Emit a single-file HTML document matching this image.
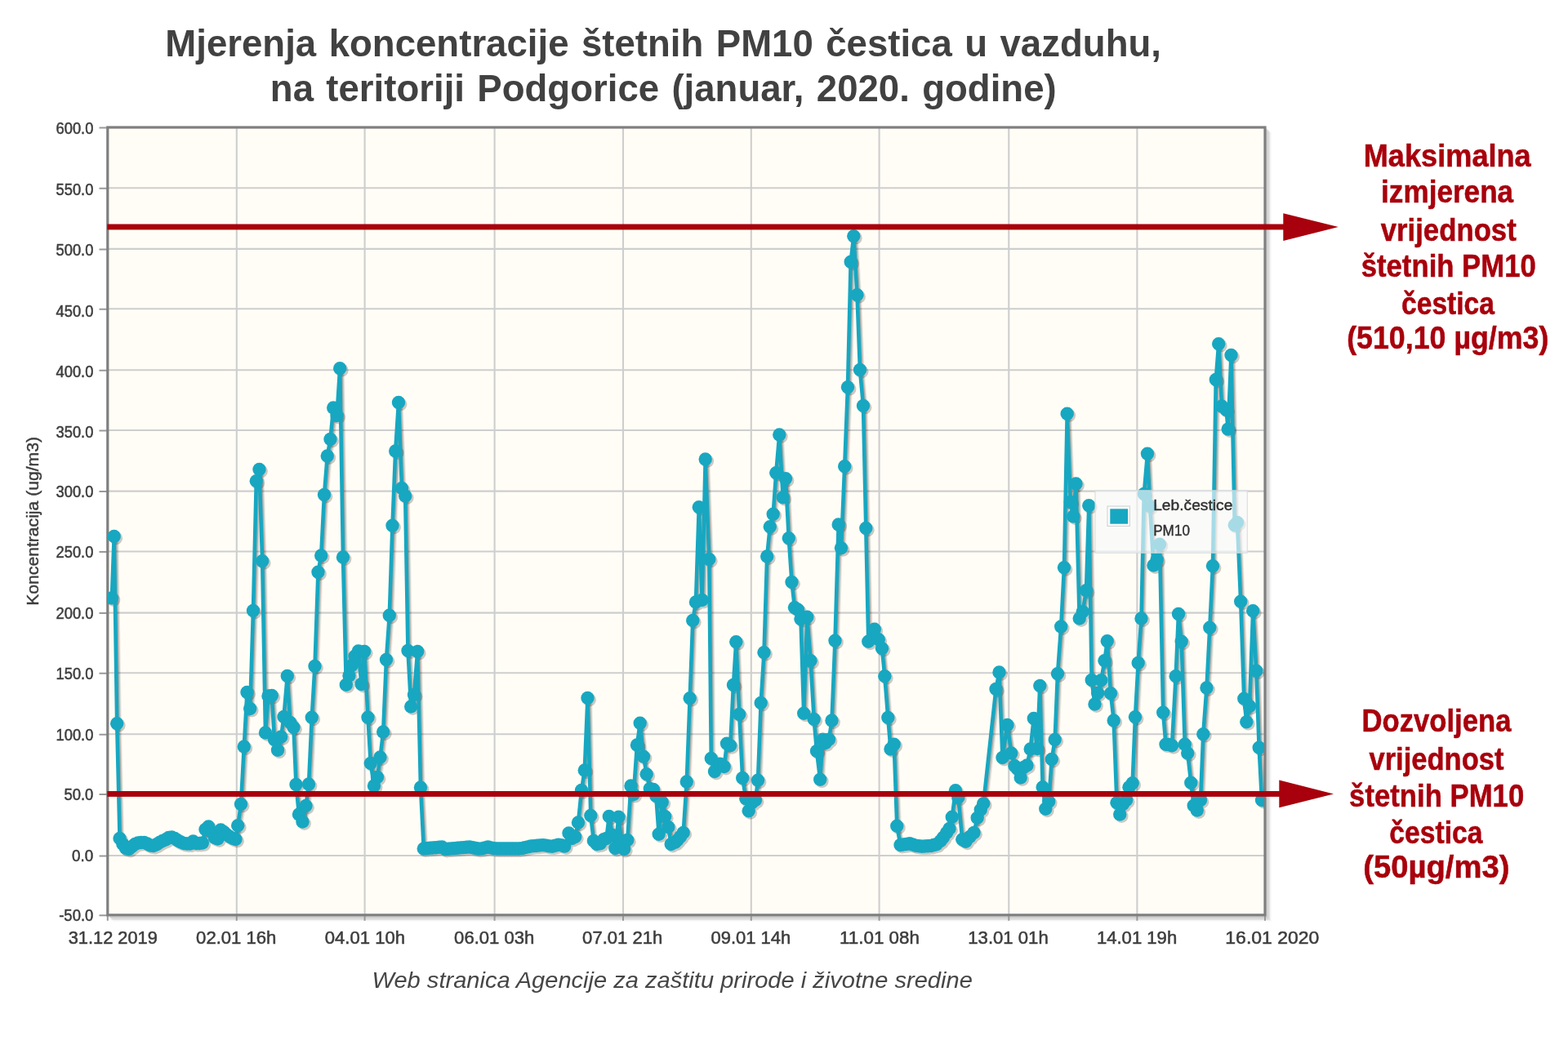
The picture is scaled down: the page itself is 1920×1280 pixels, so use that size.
<!DOCTYPE html>
<html lang="sr-Latn"><head><meta charset="utf-8">
<title>Mjerenja koncentracije štetnih PM10 čestica u vazduhu</title>
<style>
html,body{margin:0;padding:0;background:#fff;}
body{width:1920px;height:1280px;overflow:hidden;}
svg{display:block;position:absolute;left:0;top:0;}
text{font-family:"Liberation Sans",sans-serif;}
.t{font-weight:bold;font-size:46px;fill:#414141;text-anchor:middle;}
.yl{font-size:19.3px;fill:#3d3d3d;stroke:#3d3d3d;stroke-width:0.5px;text-anchor:end;}
.xl{font-size:22.6px;fill:#3d3d3d;stroke:#3d3d3d;stroke-width:0.55px;text-anchor:middle;}
.ax{font-size:20.5px;fill:#3d3d3d;stroke:#3d3d3d;stroke-width:0.45px;text-anchor:middle;}
.cap{font-style:italic;font-size:28.1px;fill:#464646;text-anchor:middle;}
.r{font-weight:bold;font-size:38px;fill:#a8000c;stroke:#a8000c;stroke-width:0.5px;text-anchor:middle;}
.lg{font-size:17.6px;fill:#303030;stroke:#303030;stroke-width:0.4px;}
</style></head><body>
<svg width="1920" height="1280" viewBox="0 0 1920 1280">
<defs>
<clipPath id="pc"><rect x="131.8" y="156.0" width="1416.2" height="964.8"/></clipPath>
</defs>
<rect width="1920" height="1280" fill="#ffffff"/>
<text class="t" transform="translate(812.15 69) scale(0.9910 1)" style="word-spacing:2.80px">Mjerenja koncentracije štetnih PM10 čestica u vazduhu,</text>
<text class="t" transform="translate(812.26 123.8) scale(0.9910 1)" style="word-spacing:2.66px">na teritoriji Podgorice (januar, 2020. godine)</text>
<path d="M1550.5 157.5 V1122.3 H133.3" fill="none" stroke="#000" stroke-opacity="0.10" stroke-width="3.2"/>
<path d="M1552.0 159.0 V1123.8 H134.8" fill="none" stroke="#000" stroke-opacity="0.09" stroke-width="3.2"/>
<path d="M1553.5 160.5 V1125.3 H136.3" fill="none" stroke="#000" stroke-opacity="0.07" stroke-width="3.2"/>
<path d="M1555.0 162.0 V1126.8 H137.8" fill="none" stroke="#000" stroke-opacity="0.04" stroke-width="3.2"/>
<rect x="131.8" y="156.0" width="1417.2" height="964.8" fill="#fffdf6"/>
<path d="M131.8 230.2H1549.0M131.8 304.9H1549.0M131.8 378.3H1549.0M131.8 453.2H1549.0M131.8 527.0H1549.0M131.8 601.6H1549.0M131.8 675.5H1549.0M131.8 750.6H1549.0M131.8 824.3H1549.0M131.8 899.3H1549.0M131.8 972.5H1549.0M131.8 1048.0H1549.0M289.8 156.0V1120.8M446.6 156.0V1120.8M605.6 156.0V1120.8M763.0 156.0V1120.8M919.8 156.0V1120.8M1076.6 156.0V1120.8M1235.3 156.0V1120.8M1392.4 156.0V1120.8" fill="none" stroke="#cecece" stroke-width="2.1"/>
<path d="M121.5 156.5H131.8M121.5 230.8H131.8M121.5 305.4H131.8M121.5 378.8H131.8M121.5 453.7H131.8M121.5 527.5H131.8M121.5 602.1H131.8M121.5 676.0H131.8M121.5 751.1H131.8M121.5 824.8H131.8M121.5 899.8H131.8M121.5 973.0H131.8M121.5 1048.5H131.8M121.5 1121.3H131.8M131.8 1120.8V1127.8M289.8 1120.8V1127.8M446.6 1120.8V1127.8M605.6 1120.8V1127.8M763.0 1120.8V1127.8M919.8 1120.8V1127.8M1076.6 1120.8V1127.8M1235.3 1120.8V1127.8M1392.4 1120.8V1127.8M1549.0 1120.8V1127.8" fill="none" stroke="#999" stroke-width="2"/>
<rect x="131.8" y="156.0" width="1417.2" height="964.8" fill="none" stroke="#7f7f7f" stroke-width="3.2"/>
<text class="yl" x="114.4" y="164.3" textLength="45.8" lengthAdjust="spacingAndGlyphs">600.0</text>
<text class="yl" x="114.4" y="238.8" textLength="45.8" lengthAdjust="spacingAndGlyphs">550.0</text>
<text class="yl" x="114.4" y="312.9" textLength="45.8" lengthAdjust="spacingAndGlyphs">500.0</text>
<text class="yl" x="114.4" y="387.7" textLength="45.8" lengthAdjust="spacingAndGlyphs">450.0</text>
<text class="yl" x="114.4" y="461.5" textLength="45.8" lengthAdjust="spacingAndGlyphs">400.0</text>
<text class="yl" x="114.4" y="536.2" textLength="45.8" lengthAdjust="spacingAndGlyphs">350.0</text>
<text class="yl" x="114.4" y="609.3" textLength="45.8" lengthAdjust="spacingAndGlyphs">300.0</text>
<text class="yl" x="114.4" y="683.0" textLength="45.8" lengthAdjust="spacingAndGlyphs">250.0</text>
<text class="yl" x="114.4" y="757.6" textLength="45.8" lengthAdjust="spacingAndGlyphs">200.0</text>
<text class="yl" x="114.4" y="832.1" textLength="45.8" lengthAdjust="spacingAndGlyphs">150.0</text>
<text class="yl" x="114.4" y="906.6" textLength="45.8" lengthAdjust="spacingAndGlyphs">100.0</text>
<text class="yl" x="114.4" y="980.0" textLength="36.0" lengthAdjust="spacingAndGlyphs">50.0</text>
<text class="yl" x="114.4" y="1054.5" textLength="26.3" lengthAdjust="spacingAndGlyphs">0.0</text>
<text class="yl" x="114.4" y="1127.8" textLength="42.2" lengthAdjust="spacingAndGlyphs">-50.0</text>
<text class="xl" x="138.30" y="1156.4" textLength="109.10" lengthAdjust="spacingAndGlyphs">31.12 2019</text>
<text class="xl" x="289.25" y="1156.4" textLength="98.31" lengthAdjust="spacingAndGlyphs">02.01 16h</text>
<text class="xl" x="446.85" y="1156.4" textLength="98.29" lengthAdjust="spacingAndGlyphs">04.01 10h</text>
<text class="xl" x="605.25" y="1156.4" textLength="98.29" lengthAdjust="spacingAndGlyphs">06.01 03h</text>
<text class="xl" x="762.25" y="1156.4" textLength="98.28" lengthAdjust="spacingAndGlyphs">07.01 21h</text>
<text class="xl" x="919.35" y="1156.4" textLength="97.73" lengthAdjust="spacingAndGlyphs">09.01 14h</text>
<text class="xl" x="1077.00" y="1156.4" textLength="97.81" lengthAdjust="spacingAndGlyphs">11.01 08h</text>
<text class="xl" x="1234.50" y="1156.4" textLength="98.37" lengthAdjust="spacingAndGlyphs">13.01 01h</text>
<text class="xl" x="1392.05" y="1156.4" textLength="98.28" lengthAdjust="spacingAndGlyphs">14.01 19h</text>
<text class="xl" x="1557.80" y="1156.4" textLength="114.90" lengthAdjust="spacingAndGlyphs">16.01 2020</text>
<text class="ax" transform="translate(46.8 638.4) rotate(-90)" textLength="206.7" lengthAdjust="spacingAndGlyphs">Koncentracija (ug/m3)</text>
<g clip-path="url(#pc)">
<g transform="translate(1.3 1.3)" opacity="0.16">
<polyline points="136.9,732.5 139.7,657.0 143.2,886.2 146.6,1027.0 150.4,1034.0 154.0,1039.0 157.8,1040.0 161.5,1037.0 165.3,1034.0 169.0,1032.5 172.8,1032.0 176.5,1032.0 180.3,1033.5 184.0,1035.5 187.8,1036.0 191.5,1034.5 195.3,1032.0 199.0,1030.0 202.8,1028.5 206.5,1026.0 210.3,1025.5 214.0,1027.0 217.8,1029.5 221.5,1031.5 225.3,1033.0 229.0,1033.5 232.8,1033.5 236.5,1030.5 240.3,1033.0 244.0,1033.0 247.8,1032.5 251.5,1016.0 255.3,1012.5 259.0,1019.0 262.8,1026.0 266.5,1027.5 270.3,1016.5 274.0,1019.0 277.8,1022.5 281.5,1025.0 285.3,1027.0 288.5,1028.0 291.2,1011.2 295.0,985.0 298.8,914.5 302.5,848.0 306.2,868.0 310.0,748.0 313.8,589.2 317.5,575.0 321.2,687.3 325.0,897.5 328.5,852.5 332.8,852.0 336.0,906.0 340.0,918.8 344.2,902.5 347.5,878.0 351.8,828.0 355.3,885.0 359.5,891.0 362.5,961.0 366.0,997.5 370.5,1006.5 374.5,987.0 378.0,960.5 381.8,878.8 385.5,816.0 389.5,700.8 393.2,680.5 397.0,606.0 400.8,558.5 404.5,538.0 408.2,499.5 412.5,509.0 416.2,451.2 420.0,682.5 423.8,838.8 427.5,827.5 430.8,815.0 434.5,803.8 438.8,797.5 442.5,838.0 446.2,798.0 450.5,878.8 453.8,935.0 458.0,962.5 462.0,952.0 465.5,927.5 469.2,896.5 473.0,808.0 476.8,753.8 480.5,643.8 484.2,552.5 488.0,493.0 492.0,598.0 496.2,607.5 499.5,797.0 503.2,865.5 507.0,851.0 511.2,798.0 515.0,964.5 518.8,1039.5 522.5,1039.2 526.2,1038.8 530.0,1038.5 533.8,1038.2 537.5,1037.8 541.2,1037.5 545.0,1040.0 548.8,1039.7 552.5,1039.4 556.2,1039.1 560.0,1038.8 563.8,1038.4 567.5,1038.1 571.2,1037.8 575.0,1037.5 578.8,1038.2 582.5,1039.0 586.2,1039.8 590.0,1039.4 593.8,1038.4 597.5,1037.5 601.2,1038.4 605.0,1039.3 608.8,1039.5 612.5,1039.5 616.2,1039.5 620.0,1039.5 623.8,1039.5 627.5,1039.5 631.2,1039.5 635.0,1039.5 638.8,1039.1 642.5,1038.2 646.2,1037.4 650.0,1036.5 653.8,1036.1 657.5,1035.8 661.2,1035.4 665.0,1035.1 668.8,1035.6 672.5,1036.4 676.2,1036.7 680.0,1035.8 683.8,1034.8 687.5,1035.3 691.2,1036.6 696.5,1020.5 700.3,1027.0 704.2,1025.0 708.0,1007.5 712.0,968.0 715.8,943.5 719.5,855.0 723.3,999.0 726.9,1030.0 730.8,1034.0 735.0,1033.3 739.2,1028.3 742.5,1027.0 745.8,1000.0 750.0,1023.0 753.3,1039.0 757.5,1000.8 761.0,1030.0 764.2,1040.0 768.3,1029.0 772.5,962.5 775.8,973.0 780.0,912.5 783.7,885.8 788.0,926.7 791.7,948.3 795.8,966.0 800.0,967.0 803.3,975.0 806.7,1021.7 810.8,982.5 814.2,1000.0 818.3,1013.0 821.7,1034.0 826.7,1031.7 829.5,1029.0 833.0,1025.0 836.7,1020.0 840.8,957.5 844.7,855.2 848.3,760.0 852.0,737.5 855.8,621.3 859.7,735.0 863.7,562.5 868.3,685.0 870.8,929.0 875.0,945.0 878.5,938.0 881.7,935.8 886.7,939.0 890.0,910.8 894.2,913.3 898.0,839.0 901.3,786.2 905.2,875.0 909.2,953.0 913.3,978.3 916.7,993.3 920.8,983.3 925.0,980.0 928.0,955.8 931.7,861.0 935.5,799.2 939.2,681.5 942.8,645.3 946.7,629.7 950.3,579.2 954.3,532.5 958.7,609.2 962.0,586.3 965.8,659.2 969.5,713.0 973.0,744.2 977.0,746.7 980.5,758.3 984.2,873.8 988.3,755.8 992.5,809.2 996.7,881.0 1000.0,920.0 1004.2,954.7 1007.5,905.8 1010.8,910.0 1015.0,905.8 1018.5,882.5 1022.5,784.7 1026.7,642.5 1030.0,671.3 1034.2,571.3 1038.0,474.2 1041.7,320.8 1045.3,289.2 1049.5,361.3 1053.0,453.0 1057.0,497.0 1060.3,647.0 1063.3,785.8 1070.8,770.8 1075.8,783.3 1080.0,794.2 1083.3,828.3 1087.3,879.0 1090.5,917.5 1094.7,911.7 1098.3,1011.7 1102.5,1035.0 1106.2,1034.5 1110.0,1034.0 1113.8,1033.3 1117.5,1034.5 1121.2,1035.8 1125.0,1036.3 1128.8,1036.7 1132.5,1036.5 1136.2,1036.3 1140.0,1036.0 1143.5,1035.0 1146.7,1034.2 1151.7,1030.0 1155.0,1025.8 1159.2,1020.0 1162.5,1015.0 1165.8,1000.8 1170.0,968.3 1173.3,976.7 1178.3,1028.3 1182.5,1030.8 1187.5,1025.0 1192.5,1020.0 1196.7,1001.7 1200.8,991.7 1204.2,984.2 1219.5,844.0 1223.5,823.5 1227.5,928.0 1233.5,888.0 1238.3,922.5 1242.5,938.3 1246.0,942.0 1249.7,952.5 1253.5,940.0 1257.5,937.5 1261.7,917.5 1265.8,880.0 1270.0,917.0 1273.3,840.0 1276.7,964.2 1280.3,990.8 1284.2,981.7 1287.8,930.0 1291.7,906.0 1295.0,825.3 1299.2,767.5 1303.0,695.3 1306.7,506.7 1310.8,615.0 1314.2,632.5 1317.5,592.5 1321.7,757.5 1325.8,749.2 1330.0,723.3 1333.3,619.2 1336.7,833.0 1340.5,862.5 1344.2,849.0 1348.3,833.3 1352.5,809.2 1355.8,785.3 1360.0,849.2 1363.7,882.5 1367.5,983.3 1371.2,997.5 1375.0,985.0 1379.2,980.0 1382.5,964.2 1386.7,959.2 1390.0,878.3 1393.7,812.0 1397.5,757.5 1400.8,605.0 1405.0,555.8 1408.0,620.0 1412.5,692.5 1416.7,685.8 1420.0,666.7 1424.2,872.8 1427.5,911.7 1431.3,912.0 1435.0,913.3 1439.7,828.3 1443.0,752.0 1446.7,785.8 1450.8,911.7 1454.2,922.5 1458.3,958.7 1461.7,986.7 1465.8,992.5 1470.0,980.0 1473.3,899.2 1477.5,842.5 1481.3,768.7 1485.0,693.3 1488.8,465.0 1492.2,421.2 1496.0,497.5 1501.5,502.0 1503.7,525.6 1507.5,435.0 1511.8,643.3 1515.0,640.0 1519.2,736.7 1523.3,855.8 1526.3,884.2 1530.0,865.0 1534.2,748.3 1538.3,821.7 1541.7,915.8 1545.0,980.0" fill="none" stroke="#000" stroke-width="4.6" stroke-linejoin="round" stroke-linecap="round"/>
</g>
<g transform="translate(2.4 2.4)" opacity="0.12">
<polyline points="136.9,732.5 139.7,657.0 143.2,886.2 146.6,1027.0 150.4,1034.0 154.0,1039.0 157.8,1040.0 161.5,1037.0 165.3,1034.0 169.0,1032.5 172.8,1032.0 176.5,1032.0 180.3,1033.5 184.0,1035.5 187.8,1036.0 191.5,1034.5 195.3,1032.0 199.0,1030.0 202.8,1028.5 206.5,1026.0 210.3,1025.5 214.0,1027.0 217.8,1029.5 221.5,1031.5 225.3,1033.0 229.0,1033.5 232.8,1033.5 236.5,1030.5 240.3,1033.0 244.0,1033.0 247.8,1032.5 251.5,1016.0 255.3,1012.5 259.0,1019.0 262.8,1026.0 266.5,1027.5 270.3,1016.5 274.0,1019.0 277.8,1022.5 281.5,1025.0 285.3,1027.0 288.5,1028.0 291.2,1011.2 295.0,985.0 298.8,914.5 302.5,848.0 306.2,868.0 310.0,748.0 313.8,589.2 317.5,575.0 321.2,687.3 325.0,897.5 328.5,852.5 332.8,852.0 336.0,906.0 340.0,918.8 344.2,902.5 347.5,878.0 351.8,828.0 355.3,885.0 359.5,891.0 362.5,961.0 366.0,997.5 370.5,1006.5 374.5,987.0 378.0,960.5 381.8,878.8 385.5,816.0 389.5,700.8 393.2,680.5 397.0,606.0 400.8,558.5 404.5,538.0 408.2,499.5 412.5,509.0 416.2,451.2 420.0,682.5 423.8,838.8 427.5,827.5 430.8,815.0 434.5,803.8 438.8,797.5 442.5,838.0 446.2,798.0 450.5,878.8 453.8,935.0 458.0,962.5 462.0,952.0 465.5,927.5 469.2,896.5 473.0,808.0 476.8,753.8 480.5,643.8 484.2,552.5 488.0,493.0 492.0,598.0 496.2,607.5 499.5,797.0 503.2,865.5 507.0,851.0 511.2,798.0 515.0,964.5 518.8,1039.5 522.5,1039.2 526.2,1038.8 530.0,1038.5 533.8,1038.2 537.5,1037.8 541.2,1037.5 545.0,1040.0 548.8,1039.7 552.5,1039.4 556.2,1039.1 560.0,1038.8 563.8,1038.4 567.5,1038.1 571.2,1037.8 575.0,1037.5 578.8,1038.2 582.5,1039.0 586.2,1039.8 590.0,1039.4 593.8,1038.4 597.5,1037.5 601.2,1038.4 605.0,1039.3 608.8,1039.5 612.5,1039.5 616.2,1039.5 620.0,1039.5 623.8,1039.5 627.5,1039.5 631.2,1039.5 635.0,1039.5 638.8,1039.1 642.5,1038.2 646.2,1037.4 650.0,1036.5 653.8,1036.1 657.5,1035.8 661.2,1035.4 665.0,1035.1 668.8,1035.6 672.5,1036.4 676.2,1036.7 680.0,1035.8 683.8,1034.8 687.5,1035.3 691.2,1036.6 696.5,1020.5 700.3,1027.0 704.2,1025.0 708.0,1007.5 712.0,968.0 715.8,943.5 719.5,855.0 723.3,999.0 726.9,1030.0 730.8,1034.0 735.0,1033.3 739.2,1028.3 742.5,1027.0 745.8,1000.0 750.0,1023.0 753.3,1039.0 757.5,1000.8 761.0,1030.0 764.2,1040.0 768.3,1029.0 772.5,962.5 775.8,973.0 780.0,912.5 783.7,885.8 788.0,926.7 791.7,948.3 795.8,966.0 800.0,967.0 803.3,975.0 806.7,1021.7 810.8,982.5 814.2,1000.0 818.3,1013.0 821.7,1034.0 826.7,1031.7 829.5,1029.0 833.0,1025.0 836.7,1020.0 840.8,957.5 844.7,855.2 848.3,760.0 852.0,737.5 855.8,621.3 859.7,735.0 863.7,562.5 868.3,685.0 870.8,929.0 875.0,945.0 878.5,938.0 881.7,935.8 886.7,939.0 890.0,910.8 894.2,913.3 898.0,839.0 901.3,786.2 905.2,875.0 909.2,953.0 913.3,978.3 916.7,993.3 920.8,983.3 925.0,980.0 928.0,955.8 931.7,861.0 935.5,799.2 939.2,681.5 942.8,645.3 946.7,629.7 950.3,579.2 954.3,532.5 958.7,609.2 962.0,586.3 965.8,659.2 969.5,713.0 973.0,744.2 977.0,746.7 980.5,758.3 984.2,873.8 988.3,755.8 992.5,809.2 996.7,881.0 1000.0,920.0 1004.2,954.7 1007.5,905.8 1010.8,910.0 1015.0,905.8 1018.5,882.5 1022.5,784.7 1026.7,642.5 1030.0,671.3 1034.2,571.3 1038.0,474.2 1041.7,320.8 1045.3,289.2 1049.5,361.3 1053.0,453.0 1057.0,497.0 1060.3,647.0 1063.3,785.8 1070.8,770.8 1075.8,783.3 1080.0,794.2 1083.3,828.3 1087.3,879.0 1090.5,917.5 1094.7,911.7 1098.3,1011.7 1102.5,1035.0 1106.2,1034.5 1110.0,1034.0 1113.8,1033.3 1117.5,1034.5 1121.2,1035.8 1125.0,1036.3 1128.8,1036.7 1132.5,1036.5 1136.2,1036.3 1140.0,1036.0 1143.5,1035.0 1146.7,1034.2 1151.7,1030.0 1155.0,1025.8 1159.2,1020.0 1162.5,1015.0 1165.8,1000.8 1170.0,968.3 1173.3,976.7 1178.3,1028.3 1182.5,1030.8 1187.5,1025.0 1192.5,1020.0 1196.7,1001.7 1200.8,991.7 1204.2,984.2 1219.5,844.0 1223.5,823.5 1227.5,928.0 1233.5,888.0 1238.3,922.5 1242.5,938.3 1246.0,942.0 1249.7,952.5 1253.5,940.0 1257.5,937.5 1261.7,917.5 1265.8,880.0 1270.0,917.0 1273.3,840.0 1276.7,964.2 1280.3,990.8 1284.2,981.7 1287.8,930.0 1291.7,906.0 1295.0,825.3 1299.2,767.5 1303.0,695.3 1306.7,506.7 1310.8,615.0 1314.2,632.5 1317.5,592.5 1321.7,757.5 1325.8,749.2 1330.0,723.3 1333.3,619.2 1336.7,833.0 1340.5,862.5 1344.2,849.0 1348.3,833.3 1352.5,809.2 1355.8,785.3 1360.0,849.2 1363.7,882.5 1367.5,983.3 1371.2,997.5 1375.0,985.0 1379.2,980.0 1382.5,964.2 1386.7,959.2 1390.0,878.3 1393.7,812.0 1397.5,757.5 1400.8,605.0 1405.0,555.8 1408.0,620.0 1412.5,692.5 1416.7,685.8 1420.0,666.7 1424.2,872.8 1427.5,911.7 1431.3,912.0 1435.0,913.3 1439.7,828.3 1443.0,752.0 1446.7,785.8 1450.8,911.7 1454.2,922.5 1458.3,958.7 1461.7,986.7 1465.8,992.5 1470.0,980.0 1473.3,899.2 1477.5,842.5 1481.3,768.7 1485.0,693.3 1488.8,465.0 1492.2,421.2 1496.0,497.5 1501.5,502.0 1503.7,525.6 1507.5,435.0 1511.8,643.3 1515.0,640.0 1519.2,736.7 1523.3,855.8 1526.3,884.2 1530.0,865.0 1534.2,748.3 1538.3,821.7 1541.7,915.8 1545.0,980.0" fill="none" stroke="#000" stroke-width="4.6" stroke-linejoin="round" stroke-linecap="round"/>
</g>
<g transform="translate(3.5 3.5)" opacity="0.08">
<polyline points="136.9,732.5 139.7,657.0 143.2,886.2 146.6,1027.0 150.4,1034.0 154.0,1039.0 157.8,1040.0 161.5,1037.0 165.3,1034.0 169.0,1032.5 172.8,1032.0 176.5,1032.0 180.3,1033.5 184.0,1035.5 187.8,1036.0 191.5,1034.5 195.3,1032.0 199.0,1030.0 202.8,1028.5 206.5,1026.0 210.3,1025.5 214.0,1027.0 217.8,1029.5 221.5,1031.5 225.3,1033.0 229.0,1033.5 232.8,1033.5 236.5,1030.5 240.3,1033.0 244.0,1033.0 247.8,1032.5 251.5,1016.0 255.3,1012.5 259.0,1019.0 262.8,1026.0 266.5,1027.5 270.3,1016.5 274.0,1019.0 277.8,1022.5 281.5,1025.0 285.3,1027.0 288.5,1028.0 291.2,1011.2 295.0,985.0 298.8,914.5 302.5,848.0 306.2,868.0 310.0,748.0 313.8,589.2 317.5,575.0 321.2,687.3 325.0,897.5 328.5,852.5 332.8,852.0 336.0,906.0 340.0,918.8 344.2,902.5 347.5,878.0 351.8,828.0 355.3,885.0 359.5,891.0 362.5,961.0 366.0,997.5 370.5,1006.5 374.5,987.0 378.0,960.5 381.8,878.8 385.5,816.0 389.5,700.8 393.2,680.5 397.0,606.0 400.8,558.5 404.5,538.0 408.2,499.5 412.5,509.0 416.2,451.2 420.0,682.5 423.8,838.8 427.5,827.5 430.8,815.0 434.5,803.8 438.8,797.5 442.5,838.0 446.2,798.0 450.5,878.8 453.8,935.0 458.0,962.5 462.0,952.0 465.5,927.5 469.2,896.5 473.0,808.0 476.8,753.8 480.5,643.8 484.2,552.5 488.0,493.0 492.0,598.0 496.2,607.5 499.5,797.0 503.2,865.5 507.0,851.0 511.2,798.0 515.0,964.5 518.8,1039.5 522.5,1039.2 526.2,1038.8 530.0,1038.5 533.8,1038.2 537.5,1037.8 541.2,1037.5 545.0,1040.0 548.8,1039.7 552.5,1039.4 556.2,1039.1 560.0,1038.8 563.8,1038.4 567.5,1038.1 571.2,1037.8 575.0,1037.5 578.8,1038.2 582.5,1039.0 586.2,1039.8 590.0,1039.4 593.8,1038.4 597.5,1037.5 601.2,1038.4 605.0,1039.3 608.8,1039.5 612.5,1039.5 616.2,1039.5 620.0,1039.5 623.8,1039.5 627.5,1039.5 631.2,1039.5 635.0,1039.5 638.8,1039.1 642.5,1038.2 646.2,1037.4 650.0,1036.5 653.8,1036.1 657.5,1035.8 661.2,1035.4 665.0,1035.1 668.8,1035.6 672.5,1036.4 676.2,1036.7 680.0,1035.8 683.8,1034.8 687.5,1035.3 691.2,1036.6 696.5,1020.5 700.3,1027.0 704.2,1025.0 708.0,1007.5 712.0,968.0 715.8,943.5 719.5,855.0 723.3,999.0 726.9,1030.0 730.8,1034.0 735.0,1033.3 739.2,1028.3 742.5,1027.0 745.8,1000.0 750.0,1023.0 753.3,1039.0 757.5,1000.8 761.0,1030.0 764.2,1040.0 768.3,1029.0 772.5,962.5 775.8,973.0 780.0,912.5 783.7,885.8 788.0,926.7 791.7,948.3 795.8,966.0 800.0,967.0 803.3,975.0 806.7,1021.7 810.8,982.5 814.2,1000.0 818.3,1013.0 821.7,1034.0 826.7,1031.7 829.5,1029.0 833.0,1025.0 836.7,1020.0 840.8,957.5 844.7,855.2 848.3,760.0 852.0,737.5 855.8,621.3 859.7,735.0 863.7,562.5 868.3,685.0 870.8,929.0 875.0,945.0 878.5,938.0 881.7,935.8 886.7,939.0 890.0,910.8 894.2,913.3 898.0,839.0 901.3,786.2 905.2,875.0 909.2,953.0 913.3,978.3 916.7,993.3 920.8,983.3 925.0,980.0 928.0,955.8 931.7,861.0 935.5,799.2 939.2,681.5 942.8,645.3 946.7,629.7 950.3,579.2 954.3,532.5 958.7,609.2 962.0,586.3 965.8,659.2 969.5,713.0 973.0,744.2 977.0,746.7 980.5,758.3 984.2,873.8 988.3,755.8 992.5,809.2 996.7,881.0 1000.0,920.0 1004.2,954.7 1007.5,905.8 1010.8,910.0 1015.0,905.8 1018.5,882.5 1022.5,784.7 1026.7,642.5 1030.0,671.3 1034.2,571.3 1038.0,474.2 1041.7,320.8 1045.3,289.2 1049.5,361.3 1053.0,453.0 1057.0,497.0 1060.3,647.0 1063.3,785.8 1070.8,770.8 1075.8,783.3 1080.0,794.2 1083.3,828.3 1087.3,879.0 1090.5,917.5 1094.7,911.7 1098.3,1011.7 1102.5,1035.0 1106.2,1034.5 1110.0,1034.0 1113.8,1033.3 1117.5,1034.5 1121.2,1035.8 1125.0,1036.3 1128.8,1036.7 1132.5,1036.5 1136.2,1036.3 1140.0,1036.0 1143.5,1035.0 1146.7,1034.2 1151.7,1030.0 1155.0,1025.8 1159.2,1020.0 1162.5,1015.0 1165.8,1000.8 1170.0,968.3 1173.3,976.7 1178.3,1028.3 1182.5,1030.8 1187.5,1025.0 1192.5,1020.0 1196.7,1001.7 1200.8,991.7 1204.2,984.2 1219.5,844.0 1223.5,823.5 1227.5,928.0 1233.5,888.0 1238.3,922.5 1242.5,938.3 1246.0,942.0 1249.7,952.5 1253.5,940.0 1257.5,937.5 1261.7,917.5 1265.8,880.0 1270.0,917.0 1273.3,840.0 1276.7,964.2 1280.3,990.8 1284.2,981.7 1287.8,930.0 1291.7,906.0 1295.0,825.3 1299.2,767.5 1303.0,695.3 1306.7,506.7 1310.8,615.0 1314.2,632.5 1317.5,592.5 1321.7,757.5 1325.8,749.2 1330.0,723.3 1333.3,619.2 1336.7,833.0 1340.5,862.5 1344.2,849.0 1348.3,833.3 1352.5,809.2 1355.8,785.3 1360.0,849.2 1363.7,882.5 1367.5,983.3 1371.2,997.5 1375.0,985.0 1379.2,980.0 1382.5,964.2 1386.7,959.2 1390.0,878.3 1393.7,812.0 1397.5,757.5 1400.8,605.0 1405.0,555.8 1408.0,620.0 1412.5,692.5 1416.7,685.8 1420.0,666.7 1424.2,872.8 1427.5,911.7 1431.3,912.0 1435.0,913.3 1439.7,828.3 1443.0,752.0 1446.7,785.8 1450.8,911.7 1454.2,922.5 1458.3,958.7 1461.7,986.7 1465.8,992.5 1470.0,980.0 1473.3,899.2 1477.5,842.5 1481.3,768.7 1485.0,693.3 1488.8,465.0 1492.2,421.2 1496.0,497.5 1501.5,502.0 1503.7,525.6 1507.5,435.0 1511.8,643.3 1515.0,640.0 1519.2,736.7 1523.3,855.8 1526.3,884.2 1530.0,865.0 1534.2,748.3 1538.3,821.7 1541.7,915.8 1545.0,980.0" fill="none" stroke="#000" stroke-width="4.6" stroke-linejoin="round" stroke-linecap="round"/>
</g>
<g fill="#000" opacity="0.2" transform="translate(2.2 2.2)">
<circle cx="136.9" cy="732.5" r="8.2"/><circle cx="139.7" cy="657.0" r="8.2"/><circle cx="143.2" cy="886.2" r="8.2"/><circle cx="146.6" cy="1027.0" r="8.2"/><circle cx="150.4" cy="1034.0" r="8.2"/><circle cx="154.0" cy="1039.0" r="8.2"/><circle cx="157.8" cy="1040.0" r="8.2"/><circle cx="161.5" cy="1037.0" r="8.2"/><circle cx="165.3" cy="1034.0" r="8.2"/><circle cx="169.0" cy="1032.5" r="8.2"/><circle cx="172.8" cy="1032.0" r="8.2"/><circle cx="176.5" cy="1032.0" r="8.2"/><circle cx="180.3" cy="1033.5" r="8.2"/><circle cx="184.0" cy="1035.5" r="8.2"/><circle cx="187.8" cy="1036.0" r="8.2"/><circle cx="191.5" cy="1034.5" r="8.2"/><circle cx="195.3" cy="1032.0" r="8.2"/><circle cx="199.0" cy="1030.0" r="8.2"/><circle cx="202.8" cy="1028.5" r="8.2"/><circle cx="206.5" cy="1026.0" r="8.2"/><circle cx="210.3" cy="1025.5" r="8.2"/><circle cx="214.0" cy="1027.0" r="8.2"/><circle cx="217.8" cy="1029.5" r="8.2"/><circle cx="221.5" cy="1031.5" r="8.2"/><circle cx="225.3" cy="1033.0" r="8.2"/><circle cx="229.0" cy="1033.5" r="8.2"/><circle cx="232.8" cy="1033.5" r="8.2"/><circle cx="236.5" cy="1030.5" r="8.2"/><circle cx="240.3" cy="1033.0" r="8.2"/><circle cx="244.0" cy="1033.0" r="8.2"/><circle cx="247.8" cy="1032.5" r="8.2"/><circle cx="251.5" cy="1016.0" r="8.2"/><circle cx="255.3" cy="1012.5" r="8.2"/><circle cx="259.0" cy="1019.0" r="8.2"/><circle cx="262.8" cy="1026.0" r="8.2"/><circle cx="266.5" cy="1027.5" r="8.2"/><circle cx="270.3" cy="1016.5" r="8.2"/><circle cx="274.0" cy="1019.0" r="8.2"/><circle cx="277.8" cy="1022.5" r="8.2"/><circle cx="281.5" cy="1025.0" r="8.2"/><circle cx="285.3" cy="1027.0" r="8.2"/><circle cx="288.5" cy="1028.0" r="8.2"/><circle cx="291.2" cy="1011.2" r="8.2"/><circle cx="295.0" cy="985.0" r="8.2"/><circle cx="298.8" cy="914.5" r="8.2"/><circle cx="302.5" cy="848.0" r="8.2"/><circle cx="306.2" cy="868.0" r="8.2"/><circle cx="310.0" cy="748.0" r="8.2"/><circle cx="313.8" cy="589.2" r="8.2"/><circle cx="317.5" cy="575.0" r="8.2"/><circle cx="321.2" cy="687.3" r="8.2"/><circle cx="325.0" cy="897.5" r="8.2"/><circle cx="328.5" cy="852.5" r="8.2"/><circle cx="332.8" cy="852.0" r="8.2"/><circle cx="336.0" cy="906.0" r="8.2"/><circle cx="340.0" cy="918.8" r="8.2"/><circle cx="344.2" cy="902.5" r="8.2"/><circle cx="347.5" cy="878.0" r="8.2"/><circle cx="351.8" cy="828.0" r="8.2"/><circle cx="355.3" cy="885.0" r="8.2"/><circle cx="359.5" cy="891.0" r="8.2"/><circle cx="362.5" cy="961.0" r="8.2"/><circle cx="366.0" cy="997.5" r="8.2"/><circle cx="370.5" cy="1006.5" r="8.2"/><circle cx="374.5" cy="987.0" r="8.2"/><circle cx="378.0" cy="960.5" r="8.2"/><circle cx="381.8" cy="878.8" r="8.2"/><circle cx="385.5" cy="816.0" r="8.2"/><circle cx="389.5" cy="700.8" r="8.2"/><circle cx="393.2" cy="680.5" r="8.2"/><circle cx="397.0" cy="606.0" r="8.2"/><circle cx="400.8" cy="558.5" r="8.2"/><circle cx="404.5" cy="538.0" r="8.2"/><circle cx="408.2" cy="499.5" r="8.2"/><circle cx="412.5" cy="509.0" r="8.2"/><circle cx="416.2" cy="451.2" r="8.2"/><circle cx="420.0" cy="682.5" r="8.2"/><circle cx="423.8" cy="838.8" r="8.2"/><circle cx="427.5" cy="827.5" r="8.2"/><circle cx="430.8" cy="815.0" r="8.2"/><circle cx="434.5" cy="803.8" r="8.2"/><circle cx="438.8" cy="797.5" r="8.2"/><circle cx="442.5" cy="838.0" r="8.2"/><circle cx="446.2" cy="798.0" r="8.2"/><circle cx="450.5" cy="878.8" r="8.2"/><circle cx="453.8" cy="935.0" r="8.2"/><circle cx="458.0" cy="962.5" r="8.2"/><circle cx="462.0" cy="952.0" r="8.2"/><circle cx="465.5" cy="927.5" r="8.2"/><circle cx="469.2" cy="896.5" r="8.2"/><circle cx="473.0" cy="808.0" r="8.2"/><circle cx="476.8" cy="753.8" r="8.2"/><circle cx="480.5" cy="643.8" r="8.2"/><circle cx="484.2" cy="552.5" r="8.2"/><circle cx="488.0" cy="493.0" r="8.2"/><circle cx="492.0" cy="598.0" r="8.2"/><circle cx="496.2" cy="607.5" r="8.2"/><circle cx="499.5" cy="797.0" r="8.2"/><circle cx="503.2" cy="865.5" r="8.2"/><circle cx="507.0" cy="851.0" r="8.2"/><circle cx="511.2" cy="798.0" r="8.2"/><circle cx="515.0" cy="964.5" r="8.2"/><circle cx="518.8" cy="1039.5" r="8.2"/><circle cx="522.5" cy="1039.2" r="8.2"/><circle cx="526.2" cy="1038.8" r="8.2"/><circle cx="530.0" cy="1038.5" r="8.2"/><circle cx="533.8" cy="1038.2" r="8.2"/><circle cx="537.5" cy="1037.8" r="8.2"/><circle cx="541.2" cy="1037.5" r="8.2"/><circle cx="545.0" cy="1040.0" r="8.2"/><circle cx="548.8" cy="1039.7" r="8.2"/><circle cx="552.5" cy="1039.4" r="8.2"/><circle cx="556.2" cy="1039.1" r="8.2"/><circle cx="560.0" cy="1038.8" r="8.2"/><circle cx="563.8" cy="1038.4" r="8.2"/><circle cx="567.5" cy="1038.1" r="8.2"/><circle cx="571.2" cy="1037.8" r="8.2"/><circle cx="575.0" cy="1037.5" r="8.2"/><circle cx="578.8" cy="1038.2" r="8.2"/><circle cx="582.5" cy="1039.0" r="8.2"/><circle cx="586.2" cy="1039.8" r="8.2"/><circle cx="590.0" cy="1039.4" r="8.2"/><circle cx="593.8" cy="1038.4" r="8.2"/><circle cx="597.5" cy="1037.5" r="8.2"/><circle cx="601.2" cy="1038.4" r="8.2"/><circle cx="605.0" cy="1039.3" r="8.2"/><circle cx="608.8" cy="1039.5" r="8.2"/><circle cx="612.5" cy="1039.5" r="8.2"/><circle cx="616.2" cy="1039.5" r="8.2"/><circle cx="620.0" cy="1039.5" r="8.2"/><circle cx="623.8" cy="1039.5" r="8.2"/><circle cx="627.5" cy="1039.5" r="8.2"/><circle cx="631.2" cy="1039.5" r="8.2"/><circle cx="635.0" cy="1039.5" r="8.2"/><circle cx="638.8" cy="1039.1" r="8.2"/><circle cx="642.5" cy="1038.2" r="8.2"/><circle cx="646.2" cy="1037.4" r="8.2"/><circle cx="650.0" cy="1036.5" r="8.2"/><circle cx="653.8" cy="1036.1" r="8.2"/><circle cx="657.5" cy="1035.8" r="8.2"/><circle cx="661.2" cy="1035.4" r="8.2"/><circle cx="665.0" cy="1035.1" r="8.2"/><circle cx="668.8" cy="1035.6" r="8.2"/><circle cx="672.5" cy="1036.4" r="8.2"/><circle cx="676.2" cy="1036.7" r="8.2"/><circle cx="680.0" cy="1035.8" r="8.2"/><circle cx="683.8" cy="1034.8" r="8.2"/><circle cx="687.5" cy="1035.3" r="8.2"/><circle cx="691.2" cy="1036.6" r="8.2"/><circle cx="696.5" cy="1020.5" r="8.2"/><circle cx="700.3" cy="1027.0" r="8.2"/><circle cx="704.2" cy="1025.0" r="8.2"/><circle cx="708.0" cy="1007.5" r="8.2"/><circle cx="712.0" cy="968.0" r="8.2"/><circle cx="715.8" cy="943.5" r="8.2"/><circle cx="719.5" cy="855.0" r="8.2"/><circle cx="723.3" cy="999.0" r="8.2"/><circle cx="726.9" cy="1030.0" r="8.2"/><circle cx="730.8" cy="1034.0" r="8.2"/><circle cx="735.0" cy="1033.3" r="8.2"/><circle cx="739.2" cy="1028.3" r="8.2"/><circle cx="742.5" cy="1027.0" r="8.2"/><circle cx="745.8" cy="1000.0" r="8.2"/><circle cx="750.0" cy="1023.0" r="8.2"/><circle cx="753.3" cy="1039.0" r="8.2"/><circle cx="757.5" cy="1000.8" r="8.2"/><circle cx="761.0" cy="1030.0" r="8.2"/><circle cx="764.2" cy="1040.0" r="8.2"/><circle cx="768.3" cy="1029.0" r="8.2"/><circle cx="772.5" cy="962.5" r="8.2"/><circle cx="775.8" cy="973.0" r="8.2"/><circle cx="780.0" cy="912.5" r="8.2"/><circle cx="783.7" cy="885.8" r="8.2"/><circle cx="788.0" cy="926.7" r="8.2"/><circle cx="791.7" cy="948.3" r="8.2"/><circle cx="795.8" cy="966.0" r="8.2"/><circle cx="800.0" cy="967.0" r="8.2"/><circle cx="803.3" cy="975.0" r="8.2"/><circle cx="806.7" cy="1021.7" r="8.2"/><circle cx="810.8" cy="982.5" r="8.2"/><circle cx="814.2" cy="1000.0" r="8.2"/><circle cx="818.3" cy="1013.0" r="8.2"/><circle cx="821.7" cy="1034.0" r="8.2"/><circle cx="826.7" cy="1031.7" r="8.2"/><circle cx="829.5" cy="1029.0" r="8.2"/><circle cx="833.0" cy="1025.0" r="8.2"/><circle cx="836.7" cy="1020.0" r="8.2"/><circle cx="840.8" cy="957.5" r="8.2"/><circle cx="844.7" cy="855.2" r="8.2"/><circle cx="848.3" cy="760.0" r="8.2"/><circle cx="852.0" cy="737.5" r="8.2"/><circle cx="855.8" cy="621.3" r="8.2"/><circle cx="859.7" cy="735.0" r="8.2"/><circle cx="863.7" cy="562.5" r="8.2"/><circle cx="868.3" cy="685.0" r="8.2"/><circle cx="870.8" cy="929.0" r="8.2"/><circle cx="875.0" cy="945.0" r="8.2"/><circle cx="878.5" cy="938.0" r="8.2"/><circle cx="881.7" cy="935.8" r="8.2"/><circle cx="886.7" cy="939.0" r="8.2"/><circle cx="890.0" cy="910.8" r="8.2"/><circle cx="894.2" cy="913.3" r="8.2"/><circle cx="898.0" cy="839.0" r="8.2"/><circle cx="901.3" cy="786.2" r="8.2"/><circle cx="905.2" cy="875.0" r="8.2"/><circle cx="909.2" cy="953.0" r="8.2"/><circle cx="913.3" cy="978.3" r="8.2"/><circle cx="916.7" cy="993.3" r="8.2"/><circle cx="920.8" cy="983.3" r="8.2"/><circle cx="925.0" cy="980.0" r="8.2"/><circle cx="928.0" cy="955.8" r="8.2"/><circle cx="931.7" cy="861.0" r="8.2"/><circle cx="935.5" cy="799.2" r="8.2"/><circle cx="939.2" cy="681.5" r="8.2"/><circle cx="942.8" cy="645.3" r="8.2"/><circle cx="946.7" cy="629.7" r="8.2"/><circle cx="950.3" cy="579.2" r="8.2"/><circle cx="954.3" cy="532.5" r="8.2"/><circle cx="958.7" cy="609.2" r="8.2"/><circle cx="962.0" cy="586.3" r="8.2"/><circle cx="965.8" cy="659.2" r="8.2"/><circle cx="969.5" cy="713.0" r="8.2"/><circle cx="973.0" cy="744.2" r="8.2"/><circle cx="977.0" cy="746.7" r="8.2"/><circle cx="980.5" cy="758.3" r="8.2"/><circle cx="984.2" cy="873.8" r="8.2"/><circle cx="988.3" cy="755.8" r="8.2"/><circle cx="992.5" cy="809.2" r="8.2"/><circle cx="996.7" cy="881.0" r="8.2"/><circle cx="1000.0" cy="920.0" r="8.2"/><circle cx="1004.2" cy="954.7" r="8.2"/><circle cx="1007.5" cy="905.8" r="8.2"/><circle cx="1010.8" cy="910.0" r="8.2"/><circle cx="1015.0" cy="905.8" r="8.2"/><circle cx="1018.5" cy="882.5" r="8.2"/><circle cx="1022.5" cy="784.7" r="8.2"/><circle cx="1026.7" cy="642.5" r="8.2"/><circle cx="1030.0" cy="671.3" r="8.2"/><circle cx="1034.2" cy="571.3" r="8.2"/><circle cx="1038.0" cy="474.2" r="8.2"/><circle cx="1041.7" cy="320.8" r="8.2"/><circle cx="1045.3" cy="289.2" r="8.2"/><circle cx="1049.5" cy="361.3" r="8.2"/><circle cx="1053.0" cy="453.0" r="8.2"/><circle cx="1057.0" cy="497.0" r="8.2"/><circle cx="1060.3" cy="647.0" r="8.2"/><circle cx="1063.3" cy="785.8" r="8.2"/><circle cx="1070.8" cy="770.8" r="8.2"/><circle cx="1075.8" cy="783.3" r="8.2"/><circle cx="1080.0" cy="794.2" r="8.2"/><circle cx="1083.3" cy="828.3" r="8.2"/><circle cx="1087.3" cy="879.0" r="8.2"/><circle cx="1090.5" cy="917.5" r="8.2"/><circle cx="1094.7" cy="911.7" r="8.2"/><circle cx="1098.3" cy="1011.7" r="8.2"/><circle cx="1102.5" cy="1035.0" r="8.2"/><circle cx="1106.2" cy="1034.5" r="8.2"/><circle cx="1110.0" cy="1034.0" r="8.2"/><circle cx="1113.8" cy="1033.3" r="8.2"/><circle cx="1117.5" cy="1034.5" r="8.2"/><circle cx="1121.2" cy="1035.8" r="8.2"/><circle cx="1125.0" cy="1036.3" r="8.2"/><circle cx="1128.8" cy="1036.7" r="8.2"/><circle cx="1132.5" cy="1036.5" r="8.2"/><circle cx="1136.2" cy="1036.3" r="8.2"/><circle cx="1140.0" cy="1036.0" r="8.2"/><circle cx="1143.5" cy="1035.0" r="8.2"/><circle cx="1146.7" cy="1034.2" r="8.2"/><circle cx="1151.7" cy="1030.0" r="8.2"/><circle cx="1155.0" cy="1025.8" r="8.2"/><circle cx="1159.2" cy="1020.0" r="8.2"/><circle cx="1162.5" cy="1015.0" r="8.2"/><circle cx="1165.8" cy="1000.8" r="8.2"/><circle cx="1170.0" cy="968.3" r="8.2"/><circle cx="1173.3" cy="976.7" r="8.2"/><circle cx="1178.3" cy="1028.3" r="8.2"/><circle cx="1182.5" cy="1030.8" r="8.2"/><circle cx="1187.5" cy="1025.0" r="8.2"/><circle cx="1192.5" cy="1020.0" r="8.2"/><circle cx="1196.7" cy="1001.7" r="8.2"/><circle cx="1200.8" cy="991.7" r="8.2"/><circle cx="1204.2" cy="984.2" r="8.2"/><circle cx="1219.5" cy="844.0" r="8.2"/><circle cx="1223.5" cy="823.5" r="8.2"/><circle cx="1227.5" cy="928.0" r="8.2"/><circle cx="1233.5" cy="888.0" r="8.2"/><circle cx="1238.3" cy="922.5" r="8.2"/><circle cx="1242.5" cy="938.3" r="8.2"/><circle cx="1246.0" cy="942.0" r="8.2"/><circle cx="1249.7" cy="952.5" r="8.2"/><circle cx="1253.5" cy="940.0" r="8.2"/><circle cx="1257.5" cy="937.5" r="8.2"/><circle cx="1261.7" cy="917.5" r="8.2"/><circle cx="1265.8" cy="880.0" r="8.2"/><circle cx="1270.0" cy="917.0" r="8.2"/><circle cx="1273.3" cy="840.0" r="8.2"/><circle cx="1276.7" cy="964.2" r="8.2"/><circle cx="1280.3" cy="990.8" r="8.2"/><circle cx="1284.2" cy="981.7" r="8.2"/><circle cx="1287.8" cy="930.0" r="8.2"/><circle cx="1291.7" cy="906.0" r="8.2"/><circle cx="1295.0" cy="825.3" r="8.2"/><circle cx="1299.2" cy="767.5" r="8.2"/><circle cx="1303.0" cy="695.3" r="8.2"/><circle cx="1306.7" cy="506.7" r="8.2"/><circle cx="1310.8" cy="615.0" r="8.2"/><circle cx="1314.2" cy="632.5" r="8.2"/><circle cx="1317.5" cy="592.5" r="8.2"/><circle cx="1321.7" cy="757.5" r="8.2"/><circle cx="1325.8" cy="749.2" r="8.2"/><circle cx="1330.0" cy="723.3" r="8.2"/><circle cx="1333.3" cy="619.2" r="8.2"/><circle cx="1336.7" cy="833.0" r="8.2"/><circle cx="1340.5" cy="862.5" r="8.2"/><circle cx="1344.2" cy="849.0" r="8.2"/><circle cx="1348.3" cy="833.3" r="8.2"/><circle cx="1352.5" cy="809.2" r="8.2"/><circle cx="1355.8" cy="785.3" r="8.2"/><circle cx="1360.0" cy="849.2" r="8.2"/><circle cx="1363.7" cy="882.5" r="8.2"/><circle cx="1367.5" cy="983.3" r="8.2"/><circle cx="1371.2" cy="997.5" r="8.2"/><circle cx="1375.0" cy="985.0" r="8.2"/><circle cx="1379.2" cy="980.0" r="8.2"/><circle cx="1382.5" cy="964.2" r="8.2"/><circle cx="1386.7" cy="959.2" r="8.2"/><circle cx="1390.0" cy="878.3" r="8.2"/><circle cx="1393.7" cy="812.0" r="8.2"/><circle cx="1397.5" cy="757.5" r="8.2"/><circle cx="1400.8" cy="605.0" r="8.2"/><circle cx="1405.0" cy="555.8" r="8.2"/><circle cx="1408.0" cy="620.0" r="8.2"/><circle cx="1412.5" cy="692.5" r="8.2"/><circle cx="1416.7" cy="685.8" r="8.2"/><circle cx="1420.0" cy="666.7" r="8.2"/><circle cx="1424.2" cy="872.8" r="8.2"/><circle cx="1427.5" cy="911.7" r="8.2"/><circle cx="1431.3" cy="912.0" r="8.2"/><circle cx="1435.0" cy="913.3" r="8.2"/><circle cx="1439.7" cy="828.3" r="8.2"/><circle cx="1443.0" cy="752.0" r="8.2"/><circle cx="1446.7" cy="785.8" r="8.2"/><circle cx="1450.8" cy="911.7" r="8.2"/><circle cx="1454.2" cy="922.5" r="8.2"/><circle cx="1458.3" cy="958.7" r="8.2"/><circle cx="1461.7" cy="986.7" r="8.2"/><circle cx="1465.8" cy="992.5" r="8.2"/><circle cx="1470.0" cy="980.0" r="8.2"/><circle cx="1473.3" cy="899.2" r="8.2"/><circle cx="1477.5" cy="842.5" r="8.2"/><circle cx="1481.3" cy="768.7" r="8.2"/><circle cx="1485.0" cy="693.3" r="8.2"/><circle cx="1488.8" cy="465.0" r="8.2"/><circle cx="1492.2" cy="421.2" r="8.2"/><circle cx="1496.0" cy="497.5" r="8.2"/><circle cx="1501.5" cy="502.0" r="8.2"/><circle cx="1503.7" cy="525.6" r="8.2"/><circle cx="1507.5" cy="435.0" r="8.2"/><circle cx="1511.8" cy="643.3" r="8.2"/><circle cx="1515.0" cy="640.0" r="8.2"/><circle cx="1519.2" cy="736.7" r="8.2"/><circle cx="1523.3" cy="855.8" r="8.2"/><circle cx="1526.3" cy="884.2" r="8.2"/><circle cx="1530.0" cy="865.0" r="8.2"/><circle cx="1534.2" cy="748.3" r="8.2"/><circle cx="1538.3" cy="821.7" r="8.2"/><circle cx="1541.7" cy="915.8" r="8.2"/><circle cx="1545.0" cy="980.0" r="8.2"/>
</g>
<polyline points="136.9,732.5 139.7,657.0 143.2,886.2 146.6,1027.0 150.4,1034.0 154.0,1039.0 157.8,1040.0 161.5,1037.0 165.3,1034.0 169.0,1032.5 172.8,1032.0 176.5,1032.0 180.3,1033.5 184.0,1035.5 187.8,1036.0 191.5,1034.5 195.3,1032.0 199.0,1030.0 202.8,1028.5 206.5,1026.0 210.3,1025.5 214.0,1027.0 217.8,1029.5 221.5,1031.5 225.3,1033.0 229.0,1033.5 232.8,1033.5 236.5,1030.5 240.3,1033.0 244.0,1033.0 247.8,1032.5 251.5,1016.0 255.3,1012.5 259.0,1019.0 262.8,1026.0 266.5,1027.5 270.3,1016.5 274.0,1019.0 277.8,1022.5 281.5,1025.0 285.3,1027.0 288.5,1028.0 291.2,1011.2 295.0,985.0 298.8,914.5 302.5,848.0 306.2,868.0 310.0,748.0 313.8,589.2 317.5,575.0 321.2,687.3 325.0,897.5 328.5,852.5 332.8,852.0 336.0,906.0 340.0,918.8 344.2,902.5 347.5,878.0 351.8,828.0 355.3,885.0 359.5,891.0 362.5,961.0 366.0,997.5 370.5,1006.5 374.5,987.0 378.0,960.5 381.8,878.8 385.5,816.0 389.5,700.8 393.2,680.5 397.0,606.0 400.8,558.5 404.5,538.0 408.2,499.5 412.5,509.0 416.2,451.2 420.0,682.5 423.8,838.8 427.5,827.5 430.8,815.0 434.5,803.8 438.8,797.5 442.5,838.0 446.2,798.0 450.5,878.8 453.8,935.0 458.0,962.5 462.0,952.0 465.5,927.5 469.2,896.5 473.0,808.0 476.8,753.8 480.5,643.8 484.2,552.5 488.0,493.0 492.0,598.0 496.2,607.5 499.5,797.0 503.2,865.5 507.0,851.0 511.2,798.0 515.0,964.5 518.8,1039.5 522.5,1039.2 526.2,1038.8 530.0,1038.5 533.8,1038.2 537.5,1037.8 541.2,1037.5 545.0,1040.0 548.8,1039.7 552.5,1039.4 556.2,1039.1 560.0,1038.8 563.8,1038.4 567.5,1038.1 571.2,1037.8 575.0,1037.5 578.8,1038.2 582.5,1039.0 586.2,1039.8 590.0,1039.4 593.8,1038.4 597.5,1037.5 601.2,1038.4 605.0,1039.3 608.8,1039.5 612.5,1039.5 616.2,1039.5 620.0,1039.5 623.8,1039.5 627.5,1039.5 631.2,1039.5 635.0,1039.5 638.8,1039.1 642.5,1038.2 646.2,1037.4 650.0,1036.5 653.8,1036.1 657.5,1035.8 661.2,1035.4 665.0,1035.1 668.8,1035.6 672.5,1036.4 676.2,1036.7 680.0,1035.8 683.8,1034.8 687.5,1035.3 691.2,1036.6 696.5,1020.5 700.3,1027.0 704.2,1025.0 708.0,1007.5 712.0,968.0 715.8,943.5 719.5,855.0 723.3,999.0 726.9,1030.0 730.8,1034.0 735.0,1033.3 739.2,1028.3 742.5,1027.0 745.8,1000.0 750.0,1023.0 753.3,1039.0 757.5,1000.8 761.0,1030.0 764.2,1040.0 768.3,1029.0 772.5,962.5 775.8,973.0 780.0,912.5 783.7,885.8 788.0,926.7 791.7,948.3 795.8,966.0 800.0,967.0 803.3,975.0 806.7,1021.7 810.8,982.5 814.2,1000.0 818.3,1013.0 821.7,1034.0 826.7,1031.7 829.5,1029.0 833.0,1025.0 836.7,1020.0 840.8,957.5 844.7,855.2 848.3,760.0 852.0,737.5 855.8,621.3 859.7,735.0 863.7,562.5 868.3,685.0 870.8,929.0 875.0,945.0 878.5,938.0 881.7,935.8 886.7,939.0 890.0,910.8 894.2,913.3 898.0,839.0 901.3,786.2 905.2,875.0 909.2,953.0 913.3,978.3 916.7,993.3 920.8,983.3 925.0,980.0 928.0,955.8 931.7,861.0 935.5,799.2 939.2,681.5 942.8,645.3 946.7,629.7 950.3,579.2 954.3,532.5 958.7,609.2 962.0,586.3 965.8,659.2 969.5,713.0 973.0,744.2 977.0,746.7 980.5,758.3 984.2,873.8 988.3,755.8 992.5,809.2 996.7,881.0 1000.0,920.0 1004.2,954.7 1007.5,905.8 1010.8,910.0 1015.0,905.8 1018.5,882.5 1022.5,784.7 1026.7,642.5 1030.0,671.3 1034.2,571.3 1038.0,474.2 1041.7,320.8 1045.3,289.2 1049.5,361.3 1053.0,453.0 1057.0,497.0 1060.3,647.0 1063.3,785.8 1070.8,770.8 1075.8,783.3 1080.0,794.2 1083.3,828.3 1087.3,879.0 1090.5,917.5 1094.7,911.7 1098.3,1011.7 1102.5,1035.0 1106.2,1034.5 1110.0,1034.0 1113.8,1033.3 1117.5,1034.5 1121.2,1035.8 1125.0,1036.3 1128.8,1036.7 1132.5,1036.5 1136.2,1036.3 1140.0,1036.0 1143.5,1035.0 1146.7,1034.2 1151.7,1030.0 1155.0,1025.8 1159.2,1020.0 1162.5,1015.0 1165.8,1000.8 1170.0,968.3 1173.3,976.7 1178.3,1028.3 1182.5,1030.8 1187.5,1025.0 1192.5,1020.0 1196.7,1001.7 1200.8,991.7 1204.2,984.2 1219.5,844.0 1223.5,823.5 1227.5,928.0 1233.5,888.0 1238.3,922.5 1242.5,938.3 1246.0,942.0 1249.7,952.5 1253.5,940.0 1257.5,937.5 1261.7,917.5 1265.8,880.0 1270.0,917.0 1273.3,840.0 1276.7,964.2 1280.3,990.8 1284.2,981.7 1287.8,930.0 1291.7,906.0 1295.0,825.3 1299.2,767.5 1303.0,695.3 1306.7,506.7 1310.8,615.0 1314.2,632.5 1317.5,592.5 1321.7,757.5 1325.8,749.2 1330.0,723.3 1333.3,619.2 1336.7,833.0 1340.5,862.5 1344.2,849.0 1348.3,833.3 1352.5,809.2 1355.8,785.3 1360.0,849.2 1363.7,882.5 1367.5,983.3 1371.2,997.5 1375.0,985.0 1379.2,980.0 1382.5,964.2 1386.7,959.2 1390.0,878.3 1393.7,812.0 1397.5,757.5 1400.8,605.0 1405.0,555.8 1408.0,620.0 1412.5,692.5 1416.7,685.8 1420.0,666.7 1424.2,872.8 1427.5,911.7 1431.3,912.0 1435.0,913.3 1439.7,828.3 1443.0,752.0 1446.7,785.8 1450.8,911.7 1454.2,922.5 1458.3,958.7 1461.7,986.7 1465.8,992.5 1470.0,980.0 1473.3,899.2 1477.5,842.5 1481.3,768.7 1485.0,693.3 1488.8,465.0 1492.2,421.2 1496.0,497.5 1501.5,502.0 1503.7,525.6 1507.5,435.0 1511.8,643.3 1515.0,640.0 1519.2,736.7 1523.3,855.8 1526.3,884.2 1530.0,865.0 1534.2,748.3 1538.3,821.7 1541.7,915.8 1545.0,980.0" fill="none" stroke="#17a7c1" stroke-width="4.6" stroke-linejoin="round" stroke-linecap="round"/>
<g fill="#17a7c1">
<circle cx="136.9" cy="732.5" r="8.2"/><circle cx="139.7" cy="657.0" r="8.2"/><circle cx="143.2" cy="886.2" r="8.2"/><circle cx="146.6" cy="1027.0" r="8.2"/><circle cx="150.4" cy="1034.0" r="8.2"/><circle cx="154.0" cy="1039.0" r="8.2"/><circle cx="157.8" cy="1040.0" r="8.2"/><circle cx="161.5" cy="1037.0" r="8.2"/><circle cx="165.3" cy="1034.0" r="8.2"/><circle cx="169.0" cy="1032.5" r="8.2"/><circle cx="172.8" cy="1032.0" r="8.2"/><circle cx="176.5" cy="1032.0" r="8.2"/><circle cx="180.3" cy="1033.5" r="8.2"/><circle cx="184.0" cy="1035.5" r="8.2"/><circle cx="187.8" cy="1036.0" r="8.2"/><circle cx="191.5" cy="1034.5" r="8.2"/><circle cx="195.3" cy="1032.0" r="8.2"/><circle cx="199.0" cy="1030.0" r="8.2"/><circle cx="202.8" cy="1028.5" r="8.2"/><circle cx="206.5" cy="1026.0" r="8.2"/><circle cx="210.3" cy="1025.5" r="8.2"/><circle cx="214.0" cy="1027.0" r="8.2"/><circle cx="217.8" cy="1029.5" r="8.2"/><circle cx="221.5" cy="1031.5" r="8.2"/><circle cx="225.3" cy="1033.0" r="8.2"/><circle cx="229.0" cy="1033.5" r="8.2"/><circle cx="232.8" cy="1033.5" r="8.2"/><circle cx="236.5" cy="1030.5" r="8.2"/><circle cx="240.3" cy="1033.0" r="8.2"/><circle cx="244.0" cy="1033.0" r="8.2"/><circle cx="247.8" cy="1032.5" r="8.2"/><circle cx="251.5" cy="1016.0" r="8.2"/><circle cx="255.3" cy="1012.5" r="8.2"/><circle cx="259.0" cy="1019.0" r="8.2"/><circle cx="262.8" cy="1026.0" r="8.2"/><circle cx="266.5" cy="1027.5" r="8.2"/><circle cx="270.3" cy="1016.5" r="8.2"/><circle cx="274.0" cy="1019.0" r="8.2"/><circle cx="277.8" cy="1022.5" r="8.2"/><circle cx="281.5" cy="1025.0" r="8.2"/><circle cx="285.3" cy="1027.0" r="8.2"/><circle cx="288.5" cy="1028.0" r="8.2"/><circle cx="291.2" cy="1011.2" r="8.2"/><circle cx="295.0" cy="985.0" r="8.2"/><circle cx="298.8" cy="914.5" r="8.2"/><circle cx="302.5" cy="848.0" r="8.2"/><circle cx="306.2" cy="868.0" r="8.2"/><circle cx="310.0" cy="748.0" r="8.2"/><circle cx="313.8" cy="589.2" r="8.2"/><circle cx="317.5" cy="575.0" r="8.2"/><circle cx="321.2" cy="687.3" r="8.2"/><circle cx="325.0" cy="897.5" r="8.2"/><circle cx="328.5" cy="852.5" r="8.2"/><circle cx="332.8" cy="852.0" r="8.2"/><circle cx="336.0" cy="906.0" r="8.2"/><circle cx="340.0" cy="918.8" r="8.2"/><circle cx="344.2" cy="902.5" r="8.2"/><circle cx="347.5" cy="878.0" r="8.2"/><circle cx="351.8" cy="828.0" r="8.2"/><circle cx="355.3" cy="885.0" r="8.2"/><circle cx="359.5" cy="891.0" r="8.2"/><circle cx="362.5" cy="961.0" r="8.2"/><circle cx="366.0" cy="997.5" r="8.2"/><circle cx="370.5" cy="1006.5" r="8.2"/><circle cx="374.5" cy="987.0" r="8.2"/><circle cx="378.0" cy="960.5" r="8.2"/><circle cx="381.8" cy="878.8" r="8.2"/><circle cx="385.5" cy="816.0" r="8.2"/><circle cx="389.5" cy="700.8" r="8.2"/><circle cx="393.2" cy="680.5" r="8.2"/><circle cx="397.0" cy="606.0" r="8.2"/><circle cx="400.8" cy="558.5" r="8.2"/><circle cx="404.5" cy="538.0" r="8.2"/><circle cx="408.2" cy="499.5" r="8.2"/><circle cx="412.5" cy="509.0" r="8.2"/><circle cx="416.2" cy="451.2" r="8.2"/><circle cx="420.0" cy="682.5" r="8.2"/><circle cx="423.8" cy="838.8" r="8.2"/><circle cx="427.5" cy="827.5" r="8.2"/><circle cx="430.8" cy="815.0" r="8.2"/><circle cx="434.5" cy="803.8" r="8.2"/><circle cx="438.8" cy="797.5" r="8.2"/><circle cx="442.5" cy="838.0" r="8.2"/><circle cx="446.2" cy="798.0" r="8.2"/><circle cx="450.5" cy="878.8" r="8.2"/><circle cx="453.8" cy="935.0" r="8.2"/><circle cx="458.0" cy="962.5" r="8.2"/><circle cx="462.0" cy="952.0" r="8.2"/><circle cx="465.5" cy="927.5" r="8.2"/><circle cx="469.2" cy="896.5" r="8.2"/><circle cx="473.0" cy="808.0" r="8.2"/><circle cx="476.8" cy="753.8" r="8.2"/><circle cx="480.5" cy="643.8" r="8.2"/><circle cx="484.2" cy="552.5" r="8.2"/><circle cx="488.0" cy="493.0" r="8.2"/><circle cx="492.0" cy="598.0" r="8.2"/><circle cx="496.2" cy="607.5" r="8.2"/><circle cx="499.5" cy="797.0" r="8.2"/><circle cx="503.2" cy="865.5" r="8.2"/><circle cx="507.0" cy="851.0" r="8.2"/><circle cx="511.2" cy="798.0" r="8.2"/><circle cx="515.0" cy="964.5" r="8.2"/><circle cx="518.8" cy="1039.5" r="8.2"/><circle cx="522.5" cy="1039.2" r="8.2"/><circle cx="526.2" cy="1038.8" r="8.2"/><circle cx="530.0" cy="1038.5" r="8.2"/><circle cx="533.8" cy="1038.2" r="8.2"/><circle cx="537.5" cy="1037.8" r="8.2"/><circle cx="541.2" cy="1037.5" r="8.2"/><circle cx="545.0" cy="1040.0" r="8.2"/><circle cx="548.8" cy="1039.7" r="8.2"/><circle cx="552.5" cy="1039.4" r="8.2"/><circle cx="556.2" cy="1039.1" r="8.2"/><circle cx="560.0" cy="1038.8" r="8.2"/><circle cx="563.8" cy="1038.4" r="8.2"/><circle cx="567.5" cy="1038.1" r="8.2"/><circle cx="571.2" cy="1037.8" r="8.2"/><circle cx="575.0" cy="1037.5" r="8.2"/><circle cx="578.8" cy="1038.2" r="8.2"/><circle cx="582.5" cy="1039.0" r="8.2"/><circle cx="586.2" cy="1039.8" r="8.2"/><circle cx="590.0" cy="1039.4" r="8.2"/><circle cx="593.8" cy="1038.4" r="8.2"/><circle cx="597.5" cy="1037.5" r="8.2"/><circle cx="601.2" cy="1038.4" r="8.2"/><circle cx="605.0" cy="1039.3" r="8.2"/><circle cx="608.8" cy="1039.5" r="8.2"/><circle cx="612.5" cy="1039.5" r="8.2"/><circle cx="616.2" cy="1039.5" r="8.2"/><circle cx="620.0" cy="1039.5" r="8.2"/><circle cx="623.8" cy="1039.5" r="8.2"/><circle cx="627.5" cy="1039.5" r="8.2"/><circle cx="631.2" cy="1039.5" r="8.2"/><circle cx="635.0" cy="1039.5" r="8.2"/><circle cx="638.8" cy="1039.1" r="8.2"/><circle cx="642.5" cy="1038.2" r="8.2"/><circle cx="646.2" cy="1037.4" r="8.2"/><circle cx="650.0" cy="1036.5" r="8.2"/><circle cx="653.8" cy="1036.1" r="8.2"/><circle cx="657.5" cy="1035.8" r="8.2"/><circle cx="661.2" cy="1035.4" r="8.2"/><circle cx="665.0" cy="1035.1" r="8.2"/><circle cx="668.8" cy="1035.6" r="8.2"/><circle cx="672.5" cy="1036.4" r="8.2"/><circle cx="676.2" cy="1036.7" r="8.2"/><circle cx="680.0" cy="1035.8" r="8.2"/><circle cx="683.8" cy="1034.8" r="8.2"/><circle cx="687.5" cy="1035.3" r="8.2"/><circle cx="691.2" cy="1036.6" r="8.2"/><circle cx="696.5" cy="1020.5" r="8.2"/><circle cx="700.3" cy="1027.0" r="8.2"/><circle cx="704.2" cy="1025.0" r="8.2"/><circle cx="708.0" cy="1007.5" r="8.2"/><circle cx="712.0" cy="968.0" r="8.2"/><circle cx="715.8" cy="943.5" r="8.2"/><circle cx="719.5" cy="855.0" r="8.2"/><circle cx="723.3" cy="999.0" r="8.2"/><circle cx="726.9" cy="1030.0" r="8.2"/><circle cx="730.8" cy="1034.0" r="8.2"/><circle cx="735.0" cy="1033.3" r="8.2"/><circle cx="739.2" cy="1028.3" r="8.2"/><circle cx="742.5" cy="1027.0" r="8.2"/><circle cx="745.8" cy="1000.0" r="8.2"/><circle cx="750.0" cy="1023.0" r="8.2"/><circle cx="753.3" cy="1039.0" r="8.2"/><circle cx="757.5" cy="1000.8" r="8.2"/><circle cx="761.0" cy="1030.0" r="8.2"/><circle cx="764.2" cy="1040.0" r="8.2"/><circle cx="768.3" cy="1029.0" r="8.2"/><circle cx="772.5" cy="962.5" r="8.2"/><circle cx="775.8" cy="973.0" r="8.2"/><circle cx="780.0" cy="912.5" r="8.2"/><circle cx="783.7" cy="885.8" r="8.2"/><circle cx="788.0" cy="926.7" r="8.2"/><circle cx="791.7" cy="948.3" r="8.2"/><circle cx="795.8" cy="966.0" r="8.2"/><circle cx="800.0" cy="967.0" r="8.2"/><circle cx="803.3" cy="975.0" r="8.2"/><circle cx="806.7" cy="1021.7" r="8.2"/><circle cx="810.8" cy="982.5" r="8.2"/><circle cx="814.2" cy="1000.0" r="8.2"/><circle cx="818.3" cy="1013.0" r="8.2"/><circle cx="821.7" cy="1034.0" r="8.2"/><circle cx="826.7" cy="1031.7" r="8.2"/><circle cx="829.5" cy="1029.0" r="8.2"/><circle cx="833.0" cy="1025.0" r="8.2"/><circle cx="836.7" cy="1020.0" r="8.2"/><circle cx="840.8" cy="957.5" r="8.2"/><circle cx="844.7" cy="855.2" r="8.2"/><circle cx="848.3" cy="760.0" r="8.2"/><circle cx="852.0" cy="737.5" r="8.2"/><circle cx="855.8" cy="621.3" r="8.2"/><circle cx="859.7" cy="735.0" r="8.2"/><circle cx="863.7" cy="562.5" r="8.2"/><circle cx="868.3" cy="685.0" r="8.2"/><circle cx="870.8" cy="929.0" r="8.2"/><circle cx="875.0" cy="945.0" r="8.2"/><circle cx="878.5" cy="938.0" r="8.2"/><circle cx="881.7" cy="935.8" r="8.2"/><circle cx="886.7" cy="939.0" r="8.2"/><circle cx="890.0" cy="910.8" r="8.2"/><circle cx="894.2" cy="913.3" r="8.2"/><circle cx="898.0" cy="839.0" r="8.2"/><circle cx="901.3" cy="786.2" r="8.2"/><circle cx="905.2" cy="875.0" r="8.2"/><circle cx="909.2" cy="953.0" r="8.2"/><circle cx="913.3" cy="978.3" r="8.2"/><circle cx="916.7" cy="993.3" r="8.2"/><circle cx="920.8" cy="983.3" r="8.2"/><circle cx="925.0" cy="980.0" r="8.2"/><circle cx="928.0" cy="955.8" r="8.2"/><circle cx="931.7" cy="861.0" r="8.2"/><circle cx="935.5" cy="799.2" r="8.2"/><circle cx="939.2" cy="681.5" r="8.2"/><circle cx="942.8" cy="645.3" r="8.2"/><circle cx="946.7" cy="629.7" r="8.2"/><circle cx="950.3" cy="579.2" r="8.2"/><circle cx="954.3" cy="532.5" r="8.2"/><circle cx="958.7" cy="609.2" r="8.2"/><circle cx="962.0" cy="586.3" r="8.2"/><circle cx="965.8" cy="659.2" r="8.2"/><circle cx="969.5" cy="713.0" r="8.2"/><circle cx="973.0" cy="744.2" r="8.2"/><circle cx="977.0" cy="746.7" r="8.2"/><circle cx="980.5" cy="758.3" r="8.2"/><circle cx="984.2" cy="873.8" r="8.2"/><circle cx="988.3" cy="755.8" r="8.2"/><circle cx="992.5" cy="809.2" r="8.2"/><circle cx="996.7" cy="881.0" r="8.2"/><circle cx="1000.0" cy="920.0" r="8.2"/><circle cx="1004.2" cy="954.7" r="8.2"/><circle cx="1007.5" cy="905.8" r="8.2"/><circle cx="1010.8" cy="910.0" r="8.2"/><circle cx="1015.0" cy="905.8" r="8.2"/><circle cx="1018.5" cy="882.5" r="8.2"/><circle cx="1022.5" cy="784.7" r="8.2"/><circle cx="1026.7" cy="642.5" r="8.2"/><circle cx="1030.0" cy="671.3" r="8.2"/><circle cx="1034.2" cy="571.3" r="8.2"/><circle cx="1038.0" cy="474.2" r="8.2"/><circle cx="1041.7" cy="320.8" r="8.2"/><circle cx="1045.3" cy="289.2" r="8.2"/><circle cx="1049.5" cy="361.3" r="8.2"/><circle cx="1053.0" cy="453.0" r="8.2"/><circle cx="1057.0" cy="497.0" r="8.2"/><circle cx="1060.3" cy="647.0" r="8.2"/><circle cx="1063.3" cy="785.8" r="8.2"/><circle cx="1070.8" cy="770.8" r="8.2"/><circle cx="1075.8" cy="783.3" r="8.2"/><circle cx="1080.0" cy="794.2" r="8.2"/><circle cx="1083.3" cy="828.3" r="8.2"/><circle cx="1087.3" cy="879.0" r="8.2"/><circle cx="1090.5" cy="917.5" r="8.2"/><circle cx="1094.7" cy="911.7" r="8.2"/><circle cx="1098.3" cy="1011.7" r="8.2"/><circle cx="1102.5" cy="1035.0" r="8.2"/><circle cx="1106.2" cy="1034.5" r="8.2"/><circle cx="1110.0" cy="1034.0" r="8.2"/><circle cx="1113.8" cy="1033.3" r="8.2"/><circle cx="1117.5" cy="1034.5" r="8.2"/><circle cx="1121.2" cy="1035.8" r="8.2"/><circle cx="1125.0" cy="1036.3" r="8.2"/><circle cx="1128.8" cy="1036.7" r="8.2"/><circle cx="1132.5" cy="1036.5" r="8.2"/><circle cx="1136.2" cy="1036.3" r="8.2"/><circle cx="1140.0" cy="1036.0" r="8.2"/><circle cx="1143.5" cy="1035.0" r="8.2"/><circle cx="1146.7" cy="1034.2" r="8.2"/><circle cx="1151.7" cy="1030.0" r="8.2"/><circle cx="1155.0" cy="1025.8" r="8.2"/><circle cx="1159.2" cy="1020.0" r="8.2"/><circle cx="1162.5" cy="1015.0" r="8.2"/><circle cx="1165.8" cy="1000.8" r="8.2"/><circle cx="1170.0" cy="968.3" r="8.2"/><circle cx="1173.3" cy="976.7" r="8.2"/><circle cx="1178.3" cy="1028.3" r="8.2"/><circle cx="1182.5" cy="1030.8" r="8.2"/><circle cx="1187.5" cy="1025.0" r="8.2"/><circle cx="1192.5" cy="1020.0" r="8.2"/><circle cx="1196.7" cy="1001.7" r="8.2"/><circle cx="1200.8" cy="991.7" r="8.2"/><circle cx="1204.2" cy="984.2" r="8.2"/><circle cx="1219.5" cy="844.0" r="8.2"/><circle cx="1223.5" cy="823.5" r="8.2"/><circle cx="1227.5" cy="928.0" r="8.2"/><circle cx="1233.5" cy="888.0" r="8.2"/><circle cx="1238.3" cy="922.5" r="8.2"/><circle cx="1242.5" cy="938.3" r="8.2"/><circle cx="1246.0" cy="942.0" r="8.2"/><circle cx="1249.7" cy="952.5" r="8.2"/><circle cx="1253.5" cy="940.0" r="8.2"/><circle cx="1257.5" cy="937.5" r="8.2"/><circle cx="1261.7" cy="917.5" r="8.2"/><circle cx="1265.8" cy="880.0" r="8.2"/><circle cx="1270.0" cy="917.0" r="8.2"/><circle cx="1273.3" cy="840.0" r="8.2"/><circle cx="1276.7" cy="964.2" r="8.2"/><circle cx="1280.3" cy="990.8" r="8.2"/><circle cx="1284.2" cy="981.7" r="8.2"/><circle cx="1287.8" cy="930.0" r="8.2"/><circle cx="1291.7" cy="906.0" r="8.2"/><circle cx="1295.0" cy="825.3" r="8.2"/><circle cx="1299.2" cy="767.5" r="8.2"/><circle cx="1303.0" cy="695.3" r="8.2"/><circle cx="1306.7" cy="506.7" r="8.2"/><circle cx="1310.8" cy="615.0" r="8.2"/><circle cx="1314.2" cy="632.5" r="8.2"/><circle cx="1317.5" cy="592.5" r="8.2"/><circle cx="1321.7" cy="757.5" r="8.2"/><circle cx="1325.8" cy="749.2" r="8.2"/><circle cx="1330.0" cy="723.3" r="8.2"/><circle cx="1333.3" cy="619.2" r="8.2"/><circle cx="1336.7" cy="833.0" r="8.2"/><circle cx="1340.5" cy="862.5" r="8.2"/><circle cx="1344.2" cy="849.0" r="8.2"/><circle cx="1348.3" cy="833.3" r="8.2"/><circle cx="1352.5" cy="809.2" r="8.2"/><circle cx="1355.8" cy="785.3" r="8.2"/><circle cx="1360.0" cy="849.2" r="8.2"/><circle cx="1363.7" cy="882.5" r="8.2"/><circle cx="1367.5" cy="983.3" r="8.2"/><circle cx="1371.2" cy="997.5" r="8.2"/><circle cx="1375.0" cy="985.0" r="8.2"/><circle cx="1379.2" cy="980.0" r="8.2"/><circle cx="1382.5" cy="964.2" r="8.2"/><circle cx="1386.7" cy="959.2" r="8.2"/><circle cx="1390.0" cy="878.3" r="8.2"/><circle cx="1393.7" cy="812.0" r="8.2"/><circle cx="1397.5" cy="757.5" r="8.2"/><circle cx="1400.8" cy="605.0" r="8.2"/><circle cx="1405.0" cy="555.8" r="8.2"/><circle cx="1408.0" cy="620.0" r="8.2"/><circle cx="1412.5" cy="692.5" r="8.2"/><circle cx="1416.7" cy="685.8" r="8.2"/><circle cx="1420.0" cy="666.7" r="8.2"/><circle cx="1424.2" cy="872.8" r="8.2"/><circle cx="1427.5" cy="911.7" r="8.2"/><circle cx="1431.3" cy="912.0" r="8.2"/><circle cx="1435.0" cy="913.3" r="8.2"/><circle cx="1439.7" cy="828.3" r="8.2"/><circle cx="1443.0" cy="752.0" r="8.2"/><circle cx="1446.7" cy="785.8" r="8.2"/><circle cx="1450.8" cy="911.7" r="8.2"/><circle cx="1454.2" cy="922.5" r="8.2"/><circle cx="1458.3" cy="958.7" r="8.2"/><circle cx="1461.7" cy="986.7" r="8.2"/><circle cx="1465.8" cy="992.5" r="8.2"/><circle cx="1470.0" cy="980.0" r="8.2"/><circle cx="1473.3" cy="899.2" r="8.2"/><circle cx="1477.5" cy="842.5" r="8.2"/><circle cx="1481.3" cy="768.7" r="8.2"/><circle cx="1485.0" cy="693.3" r="8.2"/><circle cx="1488.8" cy="465.0" r="8.2"/><circle cx="1492.2" cy="421.2" r="8.2"/><circle cx="1496.0" cy="497.5" r="8.2"/><circle cx="1501.5" cy="502.0" r="8.2"/><circle cx="1503.7" cy="525.6" r="8.2"/><circle cx="1507.5" cy="435.0" r="8.2"/><circle cx="1511.8" cy="643.3" r="8.2"/><circle cx="1515.0" cy="640.0" r="8.2"/><circle cx="1519.2" cy="736.7" r="8.2"/><circle cx="1523.3" cy="855.8" r="8.2"/><circle cx="1526.3" cy="884.2" r="8.2"/><circle cx="1530.0" cy="865.0" r="8.2"/><circle cx="1534.2" cy="748.3" r="8.2"/><circle cx="1538.3" cy="821.7" r="8.2"/><circle cx="1541.7" cy="915.8" r="8.2"/><circle cx="1545.0" cy="980.0" r="8.2"/>
</g>
</g>
<rect x="1341" y="600.8" width="186.3" height="76.5" fill="#f7f8fa" fill-opacity="0.64" stroke="#d4d8dc" stroke-opacity="0.8" stroke-width="1.2"/>
<rect x="1356" y="620" width="27.4" height="24.4" fill="#fbfbfb" stroke="#cfcfcf" stroke-width="1"/>
<rect x="1359.3" y="623.3" width="21.8" height="18.4" fill="#17a7c1"/>
<text class="lg" x="1412.20" y="624.8" textLength="97.12" lengthAdjust="spacingAndGlyphs">Leb.čestice</text>
<text class="lg" x="1412.20" y="655.6" textLength="44.78" lengthAdjust="spacingAndGlyphs">PM10</text>
<g fill="#a8000c">
<rect x="131.3" y="274.5" width="1442" height="6.9"/>
<path d="M1571.3 261.2 L1638.8 278.1 L1571.3 295 Z"/>
<rect x="131.3" y="969" width="1437" height="6.9"/>
<path d="M1566.3 955.5 L1633 972.4 L1566.3 989.3 Z"/>
</g>
<text class="r" x="1772.25" y="203.8" textLength="205.01" lengthAdjust="spacingAndGlyphs">Maksimalna</text>
<text class="r" x="1772.12" y="248.2" textLength="162.02" lengthAdjust="spacingAndGlyphs">izmjerena</text>
<text class="r" x="1773.75" y="294.5" textLength="166.01" lengthAdjust="spacingAndGlyphs">vrijednost</text>
<text class="r" x="1773.75" y="339.2" textLength="214.04" lengthAdjust="spacingAndGlyphs">štetnih PM10</text>
<text class="r" x="1773.00" y="385.0" textLength="114.03" lengthAdjust="spacingAndGlyphs">čestica</text>
<text class="r" x="1772.80" y="427.0" textLength="247.21" lengthAdjust="spacingAndGlyphs">(510,10 µg/m3)</text>
<text class="r" x="1759.00" y="896.2" textLength="183.02" lengthAdjust="spacingAndGlyphs">Dozvoljena</text>
<text class="r" x="1759.00" y="942.5" textLength="165.07" lengthAdjust="spacingAndGlyphs">vrijednost</text>
<text class="r" x="1759.16" y="987.5" textLength="214.09" lengthAdjust="spacingAndGlyphs">štetnih PM10</text>
<text class="r" x="1758.38" y="1033.2" textLength="114.12" lengthAdjust="spacingAndGlyphs">čestica</text>
<text class="r" x="1758.80" y="1075.0" textLength="179.26" lengthAdjust="spacingAndGlyphs">(50µg/m3)</text>
<text class="cap" x="823.18" y="1209.8" textLength="735.28" lengthAdjust="spacingAndGlyphs">Web stranica Agencije za zaštitu prirode i životne sredine</text>
</svg>
</body></html>
